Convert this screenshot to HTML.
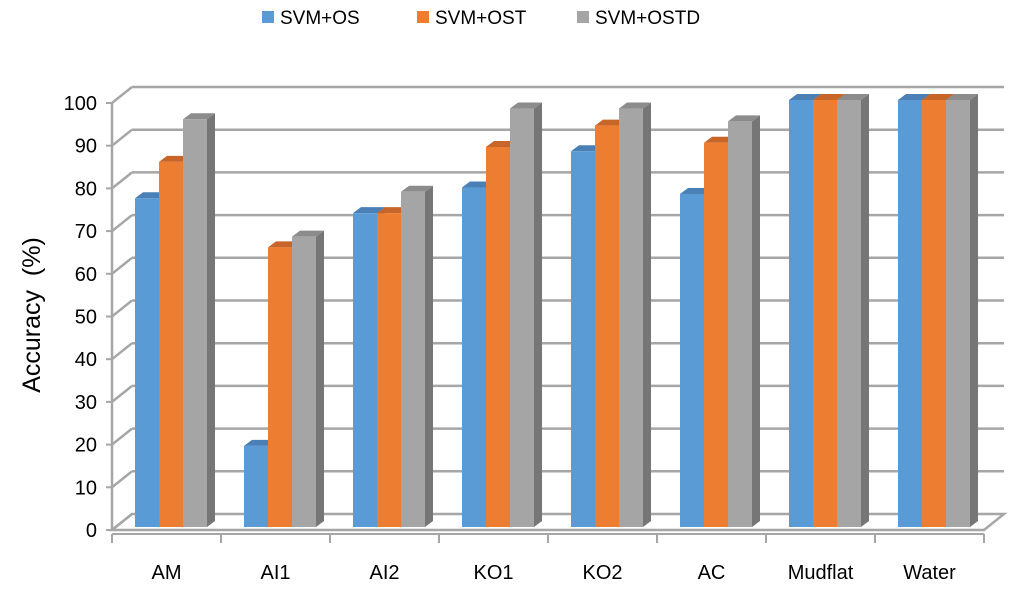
<!DOCTYPE html>
<html><head><meta charset="utf-8"><style>
body{margin:0;background:#fff}
svg{display:block;font-family:"Liberation Sans",sans-serif}
</style></head><body>
<svg id="c" width="1024" height="598"></svg>
<script>
const categories=["AM","AI1","AI2","KO1","KO2","AC","Mudflat","Water"];
const seriesNames=["SVM+OS","SVM+OST","SVM+OSTD"];
const svmOS=[77,19,73.5,79.5,88,78,100,100];
const svmOST=[85.5,65.5,73.5,89,94,90,100,100];
const svmOSTD=[95.5,68,78.5,98,98,95,100,100];
const yTicks=[0,10,20,30,40,50,60,70,80,90,100];
const series=[svmOS,svmOST,svmOSTD];
const colors=[["#5B9BD5","#41719C","#4A80B5"],["#ED7D31","#AE5A21","#C8662A"],["#A5A5A5","#767676","#8C8C8C"]];
const svg=document.getElementById('c');
const NS="http://www.w3.org/2000/svg";
function el(t,a,p){const e=document.createElementNS(NS,t);for(const k in a)e.setAttribute(k,a[k]);(p||svg).appendChild(e);return e;}
const X0=112,CW=109,FY0=530,U=4.27,DX=20,DY=-16;
const y=v=>FY0-v*U;
const x=i=>X0+i*CW;
const g=el('g',{});

yTicks.forEach(v=>{
 el('line',{x1:X0,y1:y(v),x2:X0+DX,y2:y(v)+DY,stroke:"#A6A6A6","stroke-width":2.5},g);
 if(v>0) el('line',{x1:X0+DX,y1:y(v)+DY,x2:x(8)+DX,y2:y(v)+DY,stroke:"#A6A6A6","stroke-width":2.5},g);
 el('line',{x1:X0-6,y1:y(v),x2:X0,y2:y(v),stroke:"#A6A6A6","stroke-width":2},g);
 const t=el('text',{x:97,y:y(v)+7,"text-anchor":"end","font-size":20,fill:"#000"});
 t.textContent=v;
 
});
const fl=el('polygon',{points:`${X0},${FY0} ${X0+DX},${FY0+DY} ${x(8)+DX},${FY0+DY} ${x(8)},${FY0}`,fill:"none",stroke:"#A6A6A6","stroke-width":2.5});

el('line',{x1:X0,y1:y(0),x2:X0,y2:y(100),stroke:"#A6A6A6","stroke-width":2.5});
el('line',{x1:X0,y1:534,x2:x(8),y2:534,stroke:"#A6A6A6","stroke-width":2});
const BW=24,BDX=8,BDY=-6,BB=527;
categories.forEach((c,i)=>{
 el('line',{x1:x(i),y1:534,x2:x(i),y2:543,stroke:"#A6A6A6","stroke-width":2});
 series.forEach((s,j)=>{
  const v=s[i],bx=x(i)+23+j*BW,top=BB-v*U,col=colors[j];
  const b=el('g',{});
  
  
  el('polygon',{points:`${bx+BW},${top} ${bx+BW+BDX},${top+BDY} ${bx+BW+BDX},${BB+BDY} ${bx+BW},${BB}`,fill:col[1]},b);
  el('polygon',{points:`${bx},${top} ${bx+BDX},${top+BDY} ${bx+BW+BDX},${top+BDY} ${bx+BW},${top}`,fill:col[2]},b);
  el('rect',{x:bx,y:top,width:BW,height:BB-top,fill:col[0]},b);
 });
 const t=el('text',{x:x(i)+CW/2,y:579,"text-anchor":"middle","font-size":20,fill:"#000"});
 t.textContent=c;
 
});
el('line',{x1:x(8),y1:534,x2:x(8),y2:543,stroke:"#A6A6A6","stroke-width":2});
const yt=el('text',{transform:"translate(40,315) rotate(-90)","text-anchor":"middle","font-size":25,fill:"#000"});
yt.textContent="Accuracy\u00a0\u00a0(%)";

const lx=[262,417,577];
seriesNames.forEach((n,j)=>{
 const lg=el('g',{});
 
 el('rect',{x:lx[j],y:11,width:12,height:12,fill:colors[j][0]},lg);
 const t=el('text',{x:lx[j]+18,y:24,"font-size":19,fill:"#000"},lg);
 t.textContent=n;
});
</script>
</body></html>
